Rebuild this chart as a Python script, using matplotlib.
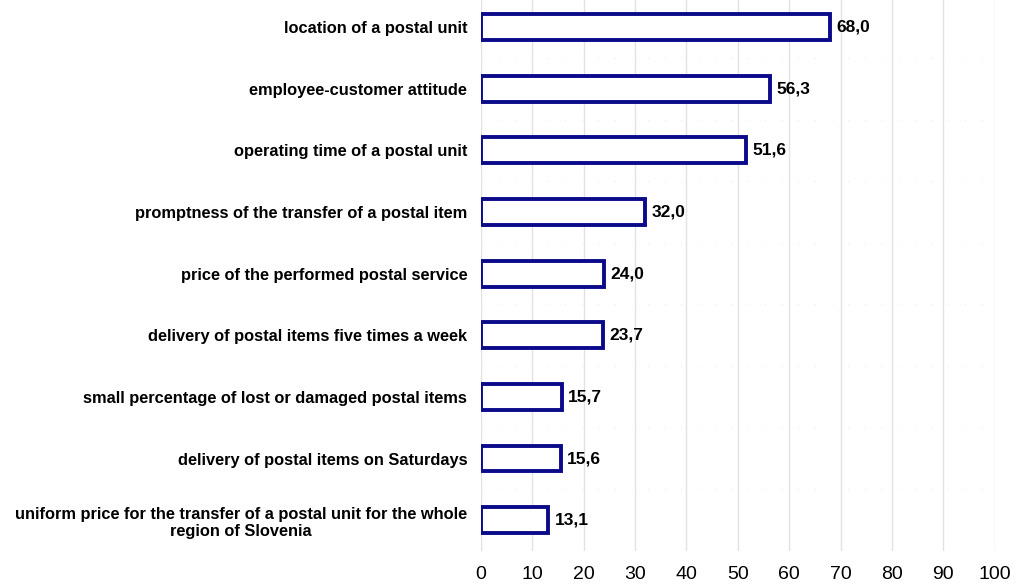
import numpy as np
import matplotlib.pyplot as plt

# data (top to bottom)
categories = [
    "location of a postal unit",
    "employee-customer attitude",
    "operating time of a postal unit",
    "promptness of the transfer of a postal item",
    "price of the performed postal service",
    "delivery of postal items five times a week",
    "small percentage of lost or damaged postal items",
    "delivery of postal items on Saturdays",
    "uniform price for the transfer of a postal unit for the whole\nregion of Slovenia",
]
values = [68.0, 56.3, 51.6, 32.0, 24.0, 23.7, 15.7, 15.6, 13.1]
xticks = list(range(0, 101, 10))

plt.rcParams['font.family'] = ['Liberation Sans', 'DejaVu Sans']

fig = plt.figure(figsize=(10.17, 5.88), dpi=100)
ax = fig.add_axes([0.473, 0.063, 0.505, 0.937])

y = np.arange(len(categories))
bars = ax.barh(y, values, height=0.42, color='white', edgecolor='#0a0a8a',
               linewidth=2.8, zorder=3)

for b, v in zip(bars, values):
    ax.text(b.get_width() + 1.2, b.get_y() + b.get_height() / 2,
            f"{v:.1f}".replace('.', ','), va='center', ha='left',
            fontsize=12.5, fontweight='bold', zorder=4)

ax.set_xlim(0, 100)
ax.set_ylim(8.5, -0.44)
ax.set_xticks(xticks)
ax.set_xticklabels([str(t) for t in xticks], fontsize=14)
ax.set_yticks(y)
ax.set_yticklabels(categories, fontsize=11.8, fontweight='bold',
                   multialignment='center')
ax.tick_params(axis='both', length=0)
ax.tick_params(axis='y', pad=10)
ax.tick_params(axis='x', pad=11)

ax.grid(axis='x', color='#e2e2e2', linewidth=1, zorder=0)
for yb in np.arange(0.5, len(categories), 1.0):
    ax.axhline(yb, color='#eeeeee', linewidth=0.8, linestyle=(0, (1, 14)), zorder=0)

for s in ax.spines.values():
    s.set_visible(False)

fig.savefig("out.png", dpi=100)
